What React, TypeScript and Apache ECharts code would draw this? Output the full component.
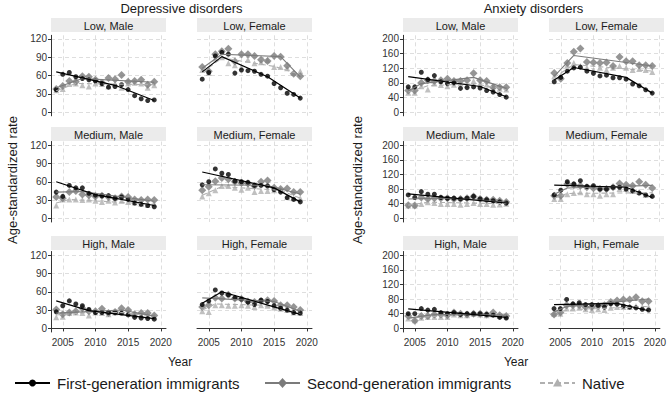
import React, { useEffect, useRef } from "react";
import * as echarts from "echarts";

const years = [2004, 2005, 2006, 2007, 2008, 2009, 2010, 2011, 2012, 2013, 2014, 2015, 2016, 2017, 2018, 2019];
const xTicks = [2005, 2010, 2015, 2020];
const depTicks = [0, 30, 60, 90, 120];
const anxTicks = [0, 40, 80, 120, 160, 200];
const disorderTitles = ["Depressive disorders", "Anxiety disorders"];
const groupNames = ["First-generation immigrants", "Second-generation immigrants", "Native"];

// Depressive disorders
const depLowMaleFirst = [37, 62, 65, 58, 55, 53, 51, 47, 41, 42, 45, 37, 27, 22, 19, 20];
const depLowMaleSecond = [38, 43, 51, 50, 59, 58, 53, 48, 56, 54, 61, 50, 51, 53, 45, 50];
const depLowMaleNative = [36, 38, 46, 47, 44, 42, 47, 46, 42, 47, 40, 47, 48, 47, 40, 44];
const depLowMaleFirstTrend = [[2004, 66], [2013, 44], [2019, 19]];
const depLowMaleSecondTrend = [[2004, 40], [2008, 55], [2019, 49]];
const depLowMaleNativeTrend = [[2004, 35], [2007, 47], [2019, 45]];

const depLowFemaleFirst = [54, 65, 92, 98, 95, 64, 69, 68, 67, 62, 59, 47, 40, 31, 29, 23];
const depLowFemaleSecond = [74, 67, 95, 100, 104, 83, 95, 95, 92, 86, 84, 92, 91, 76, 63, 59];
const depLowFemaleNative = [69, 64, 88, 90, 80, 77, 74, 86, 80, 82, 85, 74, 74, 72, 64, 67];
const depLowFemaleFirstTrend = [[2004, 66], [2007, 91], [2014, 58], [2019, 23]];
const depLowFemaleSecondTrend = [[2004, 72], [2007, 95], [2016, 91], [2019, 58]];
const depLowFemaleNativeTrend = [[2004, 65], [2007, 89], [2015, 75], [2019, 62]];

const depMediumMaleFirst = [43, 36, 54, 50, 50, 41, 38, 37, 37, 33, 35, 31, 25, 23, 21, 19];
const depMediumMaleSecond = [35, 33, 43, 45, 39, 38, 36, 37, 35, 33, 36, 35, 31, 30, 31, 30];
const depMediumMaleNative = [21, 31, 31, 31, 30, 31, 29, 27, 29, 26, 29, 27, 26, 24, 22, 23];
const depMediumMaleFirstTrend = [[2004, 60], [2010, 39], [2019, 21]];
const depMediumMaleSecondTrend = [[2004, 43], [2008, 44], [2019, 28]];
const depMediumMaleNativeTrend = [[2004, 25], [2006, 31], [2019, 23]];

const depMediumFemaleFirst = [55, 60, 81, 74, 72, 61, 60, 59, 54, 54, 53, 47, 43, 34, 31, 27];
const depMediumFemaleSecond = [46, 52, 61, 66, 64, 60, 58, 57, 53, 60, 62, 50, 48, 49, 43, 43];
const depMediumFemaleNative = [36, 41, 46, 53, 53, 50, 47, 50, 43, 45, 45, 46, 47, 35, 33, 33];
const depMediumFemaleFirstTrend = [[2004, 76], [2015, 50], [2019, 27]];
const depMediumFemaleSecondTrend = [[2004, 55], [2014, 54], [2019, 40]];
const depMediumFemaleNativeTrend = [[2004, 38], [2007, 52], [2016, 46], [2019, 33]];

const depHighMaleFirst = [27, 37, 45, 40, 37, 31, 26, 26, 26, 26, 25, 22, 18, 17, 16, 15];
const depHighMaleSecond = [31, 23, 26, 28, 33, 28, 28, 32, 25, 27, 33, 30, 23, 25, 25, 21];
const depHighMaleNative = [18, 19, 25, 26, 25, 21, 26, 25, 23, 26, 26, 25, 22, 21, 21, 19];
const depHighMaleFirstTrend = [[2004, 45], [2009, 29], [2019, 16]];
const depHighMaleSecondTrend = [[2004, 25], [2014, 30], [2019, 20]];
const depHighMaleNativeTrend = [[2004, 22], [2009, 26], [2014, 26], [2019, 20]];

const depHighFemaleFirst = [39, 45, 63, 58, 55, 50, 48, 43, 39, 46, 44, 37, 33, 30, 26, 25];
const depHighFemaleSecond = [35, 38, 50, 49, 55, 49, 48, 44, 43, 45, 46, 45, 38, 38, 35, 30];
const depHighFemaleNative = [28, 27, 38, 38, 37, 37, 38, 37, 35, 38, 37, 34, 32, 30, 26, 25];
const depHighFemaleFirstTrend = [[2004, 41], [2007, 60], [2019, 23]];
const depHighFemaleSecondTrend = [[2004, 50], [2015, 44], [2019, 28]];
const depHighFemaleNativeTrend = [[2004, 30], [2006, 40], [2013, 38], [2019, 24]];

// Anxiety disorders
const anxLowMaleFirst = [69, 69, 109, 89, 100, 83, 78, 80, 65, 67, 69, 66, 59, 55, 48, 41];
const anxLowMaleSecond = [59, 59, 80, 87, 85, 87, 91, 85, 85, 87, 106, 87, 85, 68, 68, 68];
const anxLowMaleNative = [53, 53, 71, 62, 78, 74, 71, 75, 78, 75, 85, 78, 75, 71, 64, 62];
const anxLowMaleFirstTrend = [[2004, 97], [2015, 70], [2019, 42]];
const anxLowMaleSecondTrend = [[2004, 58], [2006, 78], [2014, 95], [2019, 65]];
const anxLowMaleNativeTrend = [[2004, 55], [2007, 72], [2014, 78], [2019, 62]];

const anxLowFemaleFirst = [83, 95, 112, 121, 123, 112, 106, 99, 101, 94, 94, 90, 77, 72, 61, 52];
const anxLowFemaleSecond = [107, 91, 134, 165, 174, 137, 136, 134, 136, 126, 151, 139, 139, 128, 128, 126];
const anxLowFemaleNative = [98, 100, 128, 134, 126, 121, 115, 121, 115, 121, 126, 121, 115, 118, 115, 110];
const anxLowFemaleFirstTrend = [[2004, 88], [2007, 122], [2015, 95], [2019, 52]];
const anxLowFemaleSecondTrend = [[2004, 98], [2007, 155], [2019, 126]];
const anxLowFemaleNativeTrend = [[2004, 95], [2007, 130], [2019, 112]];

const anxMediumMaleFirst = [64, 57, 73, 66, 66, 57, 55, 55, 53, 55, 60, 53, 51, 48, 45, 42];
const anxMediumMaleSecond = [36, 35, 57, 53, 55, 55, 55, 53, 53, 55, 60, 53, 51, 51, 48, 45];
const anxMediumMaleNative = [35, 35, 39, 44, 42, 39, 39, 39, 37, 39, 42, 39, 39, 37, 38, 40];
const anxMediumMaleFirstTrend = [[2004, 67], [2019, 42]];
const anxMediumMaleSecondTrend = [[2004, 53], [2010, 56], [2019, 44]];
const anxMediumMaleNativeTrend = [[2004, 36], [2007, 44], [2019, 40]];

const anxMediumFemaleFirst = [64, 77, 100, 94, 103, 87, 89, 80, 80, 85, 85, 80, 75, 69, 64, 60];
const anxMediumFemaleSecond = [62, 62, 94, 91, 89, 85, 82, 80, 80, 85, 95, 92, 89, 100, 92, 83];
const anxMediumFemaleNative = [53, 53, 66, 69, 71, 66, 66, 62, 66, 66, 80, 80, 75, 73, 64, 66];
const anxMediumFemaleFirstTrend = [[2004, 91], [2015, 85], [2019, 57]];
const anxMediumFemaleSecondTrend = [[2004, 66], [2006, 83], [2019, 90]];
const anxMediumFemaleNativeTrend = [[2004, 55], [2006, 68], [2019, 70]];

const anxHighMaleFirst = [40, 40, 54, 50, 52, 43, 40, 43, 38, 40, 40, 40, 38, 36, 30, 28];
const anxHighMaleSecond = [34, 21, 34, 34, 38, 38, 36, 43, 40, 38, 40, 40, 38, 43, 36, 34];
const anxHighMaleNative = [27, 22, 29, 31, 31, 31, 31, 38, 36, 36, 40, 38, 36, 38, 34, 33];
const anxHighMaleFirstTrend = [[2004, 53], [2019, 30]];
const anxHighMaleSecondTrend = [[2004, 28], [2008, 38], [2019, 36]];
const anxHighMaleNativeTrend = [[2004, 28], [2013, 38], [2019, 34]];

const anxHighFemaleFirst = [54, 54, 79, 67, 70, 65, 65, 63, 58, 67, 66, 61, 58, 56, 52, 50];
const anxHighFemaleSecond = [38, 43, 63, 63, 63, 58, 58, 61, 63, 72, 76, 79, 79, 85, 74, 74];
const anxHighFemaleNative = [40, 40, 54, 54, 56, 52, 50, 52, 50, 56, 58, 58, 58, 61, 58, 58];
const anxHighFemaleFirstTrend = [[2004, 65], [2014, 68], [2019, 48]];
const anxHighFemaleSecondTrend = [[2004, 45], [2006, 60], [2019, 80]];
const anxHighFemaleNativeTrend = [[2004, 45], [2008, 52], [2019, 60]];

const panels = [
  { d: 0, title: "Low, Male", pts: [depLowMaleFirst, depLowMaleSecond, depLowMaleNative], tr: [depLowMaleFirstTrend, depLowMaleSecondTrend, depLowMaleNativeTrend] },
  { d: 0, title: "Low, Female", pts: [depLowFemaleFirst, depLowFemaleSecond, depLowFemaleNative], tr: [depLowFemaleFirstTrend, depLowFemaleSecondTrend, depLowFemaleNativeTrend] },
  { d: 0, title: "Medium, Male", pts: [depMediumMaleFirst, depMediumMaleSecond, depMediumMaleNative], tr: [depMediumMaleFirstTrend, depMediumMaleSecondTrend, depMediumMaleNativeTrend] },
  { d: 0, title: "Medium, Female", pts: [depMediumFemaleFirst, depMediumFemaleSecond, depMediumFemaleNative], tr: [depMediumFemaleFirstTrend, depMediumFemaleSecondTrend, depMediumFemaleNativeTrend] },
  { d: 0, title: "High, Male", pts: [depHighMaleFirst, depHighMaleSecond, depHighMaleNative], tr: [depHighMaleFirstTrend, depHighMaleSecondTrend, depHighMaleNativeTrend] },
  { d: 0, title: "High, Female", pts: [depHighFemaleFirst, depHighFemaleSecond, depHighFemaleNative], tr: [depHighFemaleFirstTrend, depHighFemaleSecondTrend, depHighFemaleNativeTrend] },
  { d: 1, title: "Low, Male", pts: [anxLowMaleFirst, anxLowMaleSecond, anxLowMaleNative], tr: [anxLowMaleFirstTrend, anxLowMaleSecondTrend, anxLowMaleNativeTrend] },
  { d: 1, title: "Low, Female", pts: [anxLowFemaleFirst, anxLowFemaleSecond, anxLowFemaleNative], tr: [anxLowFemaleFirstTrend, anxLowFemaleSecondTrend, anxLowFemaleNativeTrend] },
  { d: 1, title: "Medium, Male", pts: [anxMediumMaleFirst, anxMediumMaleSecond, anxMediumMaleNative], tr: [anxMediumMaleFirstTrend, anxMediumMaleSecondTrend, anxMediumMaleNativeTrend] },
  { d: 1, title: "Medium, Female", pts: [anxMediumFemaleFirst, anxMediumFemaleSecond, anxMediumFemaleNative], tr: [anxMediumFemaleFirstTrend, anxMediumFemaleSecondTrend, anxMediumFemaleNativeTrend] },
  { d: 1, title: "High, Male", pts: [anxHighMaleFirst, anxHighMaleSecond, anxHighMaleNative], tr: [anxHighMaleFirstTrend, anxHighMaleSecondTrend, anxHighMaleNativeTrend] },
  { d: 1, title: "High, Female", pts: [anxHighFemaleFirst, anxHighFemaleSecond, anxHighFemaleNative], tr: [anxHighFemaleFirstTrend, anxHighFemaleSecondTrend, anxHighFemaleNativeTrend] },
];

// ---- layout / style ----
const FONT = "'Liberation Sans', Arial, Helvetica, sans-serif";
const COLS = [51, 197, 403, 549];
const PW = 115;
const ROWS = [35.3, 141.5, 251.5];
const PH = 80.5;
const STRIP_Y = [18, 127, 236];
const STRIP_H = 14;
const COLORS = ["#000000", "#7b7b7b", "#b0b0b0"];
const SYMBOLS = ["circle", "diamond", "triangle"];
const SYM_SIZE = [5, 8, 6];
const TEXT_COLOR = "#1a1a1a";
const TICK_COLOR = "#333333";

function buildOption() {
  const grid: any[] = [];
  const xAxis: any[] = [];
  const yAxis: any[] = [];
  const series: any[] = [];
  const graphic: any[] = [];

  panels.forEach((p, i) => {
    const local = i % 6;
    const row = Math.floor(local / 2);
    const col = p.d * 2 + (local % 2);
    const isBottom = row === 2;
    const isLeft = local % 2 === 0;
    const ticks = p.d === 0 ? depTicks : anxTicks;
    const yMin = p.d === 0 ? -6 : -10;
    const yMax = p.d === 0 ? 126 : 210;
    grid.push({ left: COLS[col], top: ROWS[row], width: PW, height: PH });
    xAxis.push({
      gridIndex: i,
      type: "value",
      min: 2003.2,
      max: 2020.8,
      axisLine: { show: isBottom, lineStyle: { color: TICK_COLOR, width: 1 } },
      axisTick: { show: isBottom, customValues: xTicks, length: 3, lineStyle: { color: TICK_COLOR } },
      axisLabel: {
        show: isBottom, customValues: xTicks, fontSize: 10, color: TICK_COLOR, margin: 5, fontFamily: FONT,
        formatter: (v: number) => String(v),
      },
      splitLine: { show: true, lineStyle: { color: "#dedede", width: 1, type: [4, 3] } },
    });
    yAxis.push({
      gridIndex: i,
      type: "value",
      min: yMin,
      max: yMax,
      axisLine: { show: isLeft, lineStyle: { color: TICK_COLOR, width: 1 } },
      axisTick: { show: isLeft, customValues: ticks, length: 3, lineStyle: { color: TICK_COLOR } },
      axisLabel: {
        show: isLeft, customValues: ticks, fontSize: 10, color: TICK_COLOR, margin: 4, fontFamily: FONT,
        formatter: (v: number) => String(v),
      },
      splitLine: { show: true, lineStyle: { color: "#dedede", width: 1, type: [4, 3] } },
    });
    // strip
    graphic.push({
      type: "rect",
      shape: { x: COLS[col], y: STRIP_Y[row], width: PW, height: STRIP_H },
      style: { fill: "#ebebeb" },
      silent: true,
    });
    graphic.push({
      type: "text",
      x: COLS[col] + PW / 2,
      y: STRIP_Y[row] + STRIP_H / 2 + 0.5,
      style: { text: p.title, fontSize: 11, fill: TEXT_COLOR, align: "center", verticalAlign: "middle", fontFamily: FONT },
      silent: true,
    });
    // points & trend lines
    for (let g = 2; g >= 0; g--) {
      series.push({
        type: "scatter",
        name: groupNames[g],
        xAxisIndex: i,
        yAxisIndex: i,
        symbol: SYMBOLS[g],
        symbolSize: SYM_SIZE[g],
        itemStyle: { color: COLORS[g] },
        z: 3 + (2 - g),
        data: years.map((yr, k) => [yr, p.pts[g][k]]),
      });
    }
    for (let g = 2; g >= 0; g--) {
      series.push({
        type: "line",
        name: groupNames[g] + " trend",
        xAxisIndex: i,
        yAxisIndex: i,
        symbol: "none",
        z: 6 + (2 - g),
        lineStyle: { color: COLORS[g], width: g === 0 ? 1.2 : 1.1, type: g === 2 ? [5, 3] : "solid" },
        data: p.tr[g],
      });
    }
  });

  // disorder titles
  graphic.push({
    type: "text", x: (COLS[0] + COLS[1] + PW) / 2, y: 8,
    style: { text: disorderTitles[0], fontSize: 13, fill: TEXT_COLOR, align: "center", verticalAlign: "middle", fontFamily: FONT },
  });
  graphic.push({
    type: "text", x: (COLS[2] + COLS[3] + PW) / 2, y: 8,
    style: { text: disorderTitles[1], fontSize: 13, fill: TEXT_COLOR, align: "center", verticalAlign: "middle", fontFamily: FONT },
  });
  // y titles
  [12, 357].forEach((x) => {
    graphic.push({
      type: "text", x, y: 180, rotation: Math.PI / 2,
      style: { text: "Age-standardized rate", fontSize: 13, fill: TEXT_COLOR, align: "center", verticalAlign: "middle", fontFamily: FONT },
    });
  });
  // x titles
  [180, 516].forEach((x) => {
    graphic.push({
      type: "text", x, y: 362,
      style: { text: "Year", fontSize: 12, fill: TEXT_COLOR, align: "center", verticalAlign: "middle", fontFamily: FONT },
    });
  });
  // legend
  const legX = [15, 265, 540];
  const legY = 383;
  legX.forEach((lx, g) => {
    graphic.push({
      type: "line", shape: { x1: lx, y1: legY, x2: lx + 35, y2: legY },
      style: { stroke: COLORS[g], lineWidth: 1.8, lineDash: g === 2 ? [5, 3] : null },
    });
    const cx = lx + 17.5;
    if (g === 0) {
      graphic.push({ type: "circle", shape: { cx, cy: legY, r: 3.5 }, style: { fill: COLORS[g] } });
    } else if (g === 1) {
      graphic.push({ type: "polygon", shape: { points: [[cx, legY - 5], [cx + 4.5, legY], [cx, legY + 5], [cx - 4.5, legY]] }, style: { fill: COLORS[g] } });
    } else {
      graphic.push({ type: "polygon", shape: { points: [[cx, legY - 4.5], [cx + 4.5, legY + 3.5], [cx - 4.5, legY + 3.5]] }, style: { fill: COLORS[g] } });
    }
    graphic.push({
      type: "text", x: lx + 42, y: legY,
      style: { text: groupNames[g], fontSize: 15, fill: TEXT_COLOR, align: "left", verticalAlign: "middle", fontFamily: FONT },
    });
  });

  return {
    animation: false,
    backgroundColor: "#ffffff",
    textStyle: { fontFamily: FONT },
    grid,
    xAxis,
    yAxis,
    series,
    graphic,
  };
}

export default function App() {
  const ref = useRef<HTMLDivElement>(null);
  useEffect(() => {
    if (!ref.current) return;
    const chart = echarts.init(ref.current, undefined, { renderer: "svg" });
    chart.setOption(buildOption() as any);
    return () => chart.dispose();
  }, []);
  return <div ref={ref} style={{ position: "fixed", left: 0, top: 0, width: 669, height: 395 }} />;
}
